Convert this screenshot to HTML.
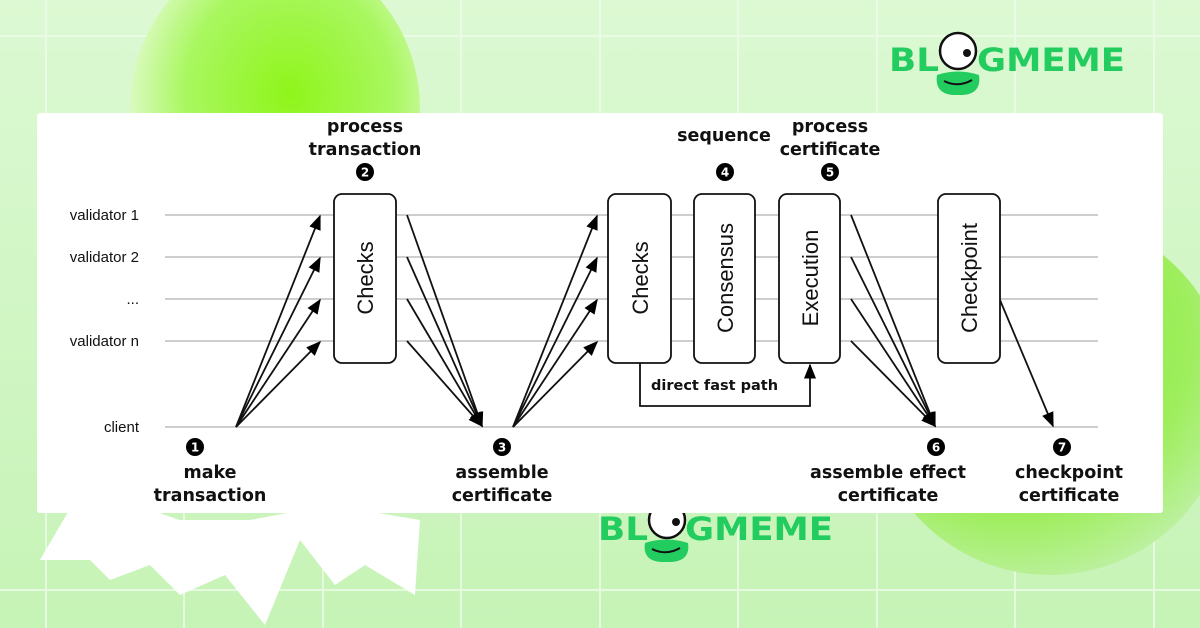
<!DOCTYPE html>
<html><head><meta charset="utf-8"><style>
html,body{margin:0;padding:0;width:1200px;height:628px;overflow:hidden;}
body{background:linear-gradient(#dcf9d3,#c6f3b6);position:relative;font-family:"DejaVu Sans","Liberation Sans",sans-serif;}
</style></head><body>
<svg width="1200" height="628" viewBox="0 0 1200 628" xmlns="http://www.w3.org/2000/svg" style="position:absolute;left:0;top:0">
<defs>
<radialGradient id="lime" cx="0.55" cy="0.45" r="0.6">
<stop offset="0" stop-color="#8ff51a"/><stop offset="0.6" stop-color="#a9f760"/><stop offset="1" stop-color="#e8fbd8"/>
</radialGradient>
<radialGradient id="lime2" cx="0.4" cy="0.35" r="0.7">
<stop offset="0" stop-color="#78ee22"/><stop offset="0.7" stop-color="#9fee5e"/><stop offset="1" stop-color="#bff1a6"/>
</radialGradient>
<marker id="ah2" viewBox="0 0 10 10" refX="9" refY="5" markerWidth="18" markerHeight="15" orient="auto" markerUnits="userSpaceOnUse">
<path d="M0,1 L10,5 L0,9 z" fill="#000"/></marker>
</defs>
<g stroke="#eefcea" stroke-width="2" opacity="0.8">
<line x1="46" y1="0" x2="46" y2="628"/><line x1="184" y1="0" x2="184" y2="628"/><line x1="323" y1="0" x2="323" y2="628"/><line x1="461" y1="0" x2="461" y2="628"/><line x1="600" y1="0" x2="600" y2="628"/><line x1="738" y1="0" x2="738" y2="628"/><line x1="877" y1="0" x2="877" y2="628"/><line x1="1015" y1="0" x2="1015" y2="628"/><line x1="1154" y1="0" x2="1154" y2="628"/>
<line x1="0" y1="36" x2="1200" y2="36"/><line x1="0" y1="590" x2="1200" y2="590"/>
</g>
<ellipse cx="275" cy="110" rx="145" ry="160" fill="url(#lime)"/>
<circle cx="1050" cy="395" r="180" fill="url(#lime2)"/>
<polygon points="40,560 75,500 120,500 180,520 250,520 330,505 420,520 415,595 365,565 335,585 300,540 265,625 225,575 180,595 150,565 110,580 90,560" fill="#fff"/>
<g font-family="DejaVu Sans" font-weight="bold" fill="#22cc5f">
<text x="889" y="71" font-size="32" textLength="50" lengthAdjust="spacingAndGlyphs">BL</text>
<text x="977" y="71" font-size="32" textLength="148" lengthAdjust="spacingAndGlyphs">GMEME</text>
<circle cx="958" cy="51" r="18" fill="#fff" stroke="#111" stroke-width="2.5"/><circle cx="967" cy="53" r="4" fill="#111"/>
<path d="M937,75 Q958,68 979,75 Q982,96 958,95 Q934,96 937,75z"/>
<path d="M944,81 Q958,88 972,80" stroke="#111" stroke-width="2" fill="none"/>
<text x="598" y="540" font-size="32" textLength="50" lengthAdjust="spacingAndGlyphs">BL</text>
<text x="685" y="540" font-size="32" textLength="148" lengthAdjust="spacingAndGlyphs">GMEME</text>
<circle cx="667" cy="520" r="18" fill="#fff" stroke="#111" stroke-width="2.5"/><circle cx="676" cy="522" r="4" fill="#111"/>
<path d="M645,543 Q666,536 688,543 Q691,563 666,562 Q642,563 645,543z"/>
<path d="M652,549 Q666,556 680,548" stroke="#111" stroke-width="2" fill="none"/>
</g>
<rect x="37" y="113" width="1126" height="400" rx="3" fill="#fff"/>
<g stroke="#bdbdbd" stroke-width="1.5">
<line x1="165" y1="215" x2="1098" y2="215"/><line x1="165" y1="257" x2="1098" y2="257"/><line x1="165" y1="299" x2="1098" y2="299"/><line x1="165" y1="341" x2="1098" y2="341"/><line x1="165" y1="427" x2="1098" y2="427"/>
</g>
<g font-family="Liberation Sans,Arial,sans-serif" font-size="15" fill="#111" text-anchor="end">
<text x="139" y="220">validator 1</text><text x="139" y="262">validator 2</text><text x="139" y="304">...</text><text x="139" y="346">validator n</text><text x="139" y="432">client</text>
</g>
<g fill="#fff" stroke="#111" stroke-width="1.8">
<rect x="334" y="194" width="62" height="169" rx="8"/>
<rect x="608" y="194" width="63" height="169" rx="8"/>
<rect x="694" y="194" width="61" height="169" rx="8"/>
<rect x="779" y="194" width="61" height="169" rx="8"/>
<rect x="938" y="194" width="62" height="169" rx="8"/>
</g>
<g font-family="Liberation Sans,Arial,sans-serif" font-size="22" fill="#111" text-anchor="middle">
<text transform="translate(373,278) rotate(-90)">Checks</text>
<text transform="translate(648,278) rotate(-90)">Checks</text>
<text transform="translate(733,278) rotate(-90)">Consensus</text>
<text transform="translate(818,278) rotate(-90)">Execution</text>
<text transform="translate(977,278) rotate(-90)">Checkpoint</text>
</g>
<g stroke="#111" stroke-width="1.8" fill="none" marker-end="url(#ah2)">
<line x1="236" y1="427" x2="320" y2="216"/><line x1="236" y1="427" x2="320" y2="258"/><line x1="236" y1="427" x2="320" y2="300"/><line x1="236" y1="427" x2="320" y2="342"/>
<line x1="407" y1="215" x2="482" y2="426"/><line x1="407" y1="257" x2="482" y2="426"/><line x1="407" y1="299" x2="482" y2="426"/><line x1="407" y1="341" x2="482" y2="426"/>
<line x1="513" y1="427" x2="597" y2="216"/><line x1="513" y1="427" x2="597" y2="258"/><line x1="513" y1="427" x2="597" y2="300"/><line x1="513" y1="427" x2="597" y2="342"/>
<line x1="851" y1="215" x2="935" y2="426"/><line x1="851" y1="257" x2="935" y2="426"/><line x1="851" y1="299" x2="935" y2="426"/><line x1="851" y1="341" x2="935" y2="426"/>
<line x1="1000" y1="300" x2="1053" y2="426"/>
<polyline points="640,363 640,406 810,406 810,365"/>
</g>
<text x="651" y="390" font-family="DejaVu Sans" font-weight="bold" font-size="14.5" fill="#111">direct fast path</text>
<g font-family="DejaVu Sans" font-weight="bold" font-size="12" text-anchor="middle">
<circle cx="365" cy="172" r="9"/><text x="365" y="176.5" fill="#fff">2</text>
<circle cx="725" cy="172" r="9"/><text x="725" y="176.5" fill="#fff">4</text>
<circle cx="830" cy="172" r="9"/><text x="830" y="176.5" fill="#fff">5</text>
<circle cx="195" cy="447" r="9"/><text x="195" y="451.5" fill="#fff">1</text>
<circle cx="502" cy="447" r="9"/><text x="502" y="451.5" fill="#fff">3</text>
<circle cx="936" cy="447" r="9"/><text x="936" y="451.5" fill="#fff">6</text>
<circle cx="1062" cy="447" r="9"/><text x="1062" y="451.5" fill="#fff">7</text>
</g>
<g font-family="DejaVu Sans" font-weight="bold" font-size="17.5" fill="#111" text-anchor="middle">
<text x="365" y="132">process</text><text x="365" y="155">transaction</text>
<text x="724" y="141">sequence</text>
<text x="830" y="132">process</text><text x="830" y="155">certificate</text>
<text x="210" y="478">make</text><text x="210" y="501">transaction</text>
<text x="502" y="478">assemble</text><text x="502" y="501">certificate</text>
<text x="888" y="478">assemble effect</text><text x="888" y="501">certificate</text>
<text x="1069" y="478">checkpoint</text><text x="1069" y="501">certificate</text>
</g>
</svg>
</body></html>
